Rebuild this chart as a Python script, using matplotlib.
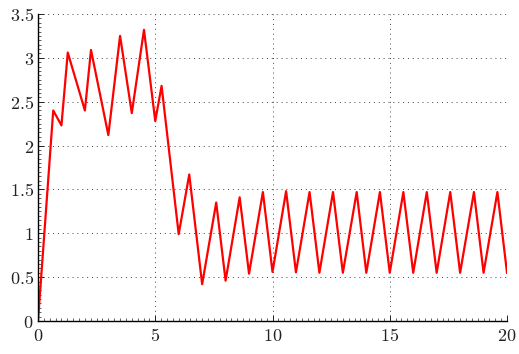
import matplotlib
matplotlib.use("Agg")
import matplotlib.pyplot as plt
from matplotlib.ticker import MultipleLocator, FuncFormatter

x = [0, 0.65, 1.0, 1.27, 2.0, 2.26, 3.0, 3.5, 4.0, 4.52, 5.0, 5.27, 6.0, 6.45, 7.0,
     7.6, 8.0, 8.6, 9.0, 9.59, 10.0, 10.58, 11.0, 11.58, 12.0, 12.58, 13.0, 13.59, 14.0,
     14.58, 15.0, 15.58, 16.0, 16.58, 17.0, 17.58, 18.0, 18.59, 19.0, 19.59, 20.0]
y = [0, 2.40, 2.23, 3.06, 2.40, 3.09, 2.12, 3.25, 2.37, 3.32, 2.28, 2.68, 0.99, 1.67, 0.42,
     1.35, 0.46, 1.41, 0.54, 1.47, 0.56, 1.48, 0.555, 1.47, 0.55, 1.47, 0.55, 1.47, 0.55,
     1.47, 0.55, 1.47, 0.55, 1.47, 0.55, 1.47, 0.55, 1.47, 0.55, 1.47, 0.55]

plt.rcParams['mathtext.fontset'] = 'cm'
plt.rcParams['font.family'] = 'serif'

fig = plt.figure(figsize=(5.19, 3.54), dpi=100)
ax = fig.add_axes([0.0732, 0.0932, 0.9037, 0.8673])
ax.plot(x, y, color='red', lw=1.6)
ax.set_xlim(0, 20)
ax.set_ylim(0, 3.5)
ax.xaxis.set_major_locator(MultipleLocator(5))
ax.xaxis.set_minor_locator(MultipleLocator(0.25))
ax.yaxis.set_major_locator(MultipleLocator(0.5))
ax.yaxis.set_minor_locator(MultipleLocator(0.05))

def fmt(v, pos):
    s = ('%g' % v)
    return '$' + s + '$'
ax.xaxis.set_major_formatter(FuncFormatter(fmt))
ax.yaxis.set_major_formatter(FuncFormatter(fmt))
ax.tick_params(which='both', direction='in', labelsize=13, colors='#222222')
ax.tick_params(which='major', length=4, width=0.7)
ax.tick_params(which='minor', length=2, width=0.5)
ax.tick_params(axis='x', pad=4)
ax.tick_params(axis='y', pad=3)
for s in ['top', 'right']:
    ax.spines[s].set_visible(False)
for s in ['left', 'bottom']:
    ax.spines[s].set_linewidth(1.0)
ax.grid(True, which='major', linestyle=(0, (1, 4)), color='#444444', lw=0.7)
ax.set_axisbelow(True)
fig.savefig('out.png', dpi=100)
